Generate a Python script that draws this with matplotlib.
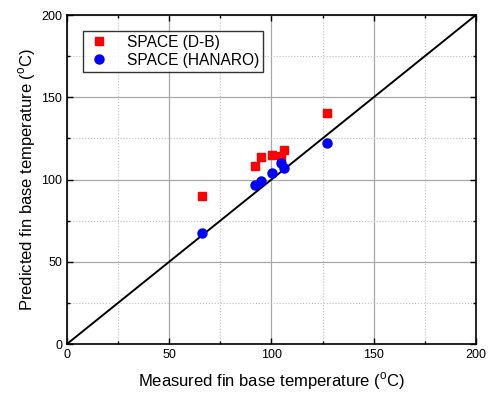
import matplotlib.pyplot as plt
import numpy as np

# measured / predicted fin base temperature (C)
db_measured = [65.9, 92.0, 94.8, 100.2, 104.7, 106.2, 127.4]
db_predicted = [90.2, 108.4, 113.5, 115.1, 114.3, 118.1, 140.6]
hanaro_measured = [65.9, 91.8, 94.8, 100.3, 104.7, 106.2, 127.4]
hanaro_predicted = [67.3, 96.5, 99.1, 103.7, 110.0, 107.2, 122.0]

plt.rcParams['font.family'] = ['Liberation Sans', 'DejaVu Sans']
plt.rcParams['mathtext.fontset'] = 'custom'
plt.rcParams['mathtext.rm'] = 'Liberation Sans'

fig = plt.figure(figsize=(4.96, 3.97), dpi=100)
ax = fig.add_axes([0.135, 0.1335, 0.8246, 0.8287])

ax.plot([0, 200], [0, 200], color='black', lw=1.4, zorder=2)
ax.plot(db_measured, db_predicted, 's', color='#ff0000', ms=6,
        label='SPACE (D-B)', zorder=3)
ax.plot(hanaro_measured, hanaro_predicted, 'o', color='#0000ff', ms=6.5,
        label='SPACE (HANARO)', zorder=3)

ax.set_xlim(0, 200)
ax.set_ylim(0, 200)
ax.set_xticks(np.arange(0, 201, 50))
ax.set_yticks(np.arange(0, 201, 50))
ax.set_xticks(np.arange(25, 200, 50), minor=True)
ax.set_yticks(np.arange(25, 200, 50), minor=True)
ax.grid(True, which='major', color='#a8a8a8', lw=0.9, ls='-')
ax.grid(True, which='minor', color='#c0c0c0', lw=0.8, ls=':')
ax.set_axisbelow(True)
ax.tick_params(which='both', direction='in', top=True, right=True,
               labelsize=9, width=1)
ax.tick_params(which='major', length=4)
ax.tick_params(which='minor', length=2.5)
for s in ax.spines.values():
    s.set_linewidth(1.2)

ax.set_xlabel('Measured fin base temperature ($^\\mathrm{o}$C)', fontsize=12, labelpad=7)
ax.set_ylabel('Predicted fin base temperature ($^\\mathrm{o}$C)', fontsize=12, labelpad=2)

leg = ax.legend(loc='upper left', bbox_to_anchor=(0.038, 0.952), fontsize=11.2,
                frameon=True, fancybox=False, edgecolor='black',
                borderpad=0.25, handletextpad=1.0, labelspacing=0.2,
                handlelength=1.6, borderaxespad=0)
leg.get_frame().set_linewidth(1)

fig.savefig('out.png', dpi=100)
